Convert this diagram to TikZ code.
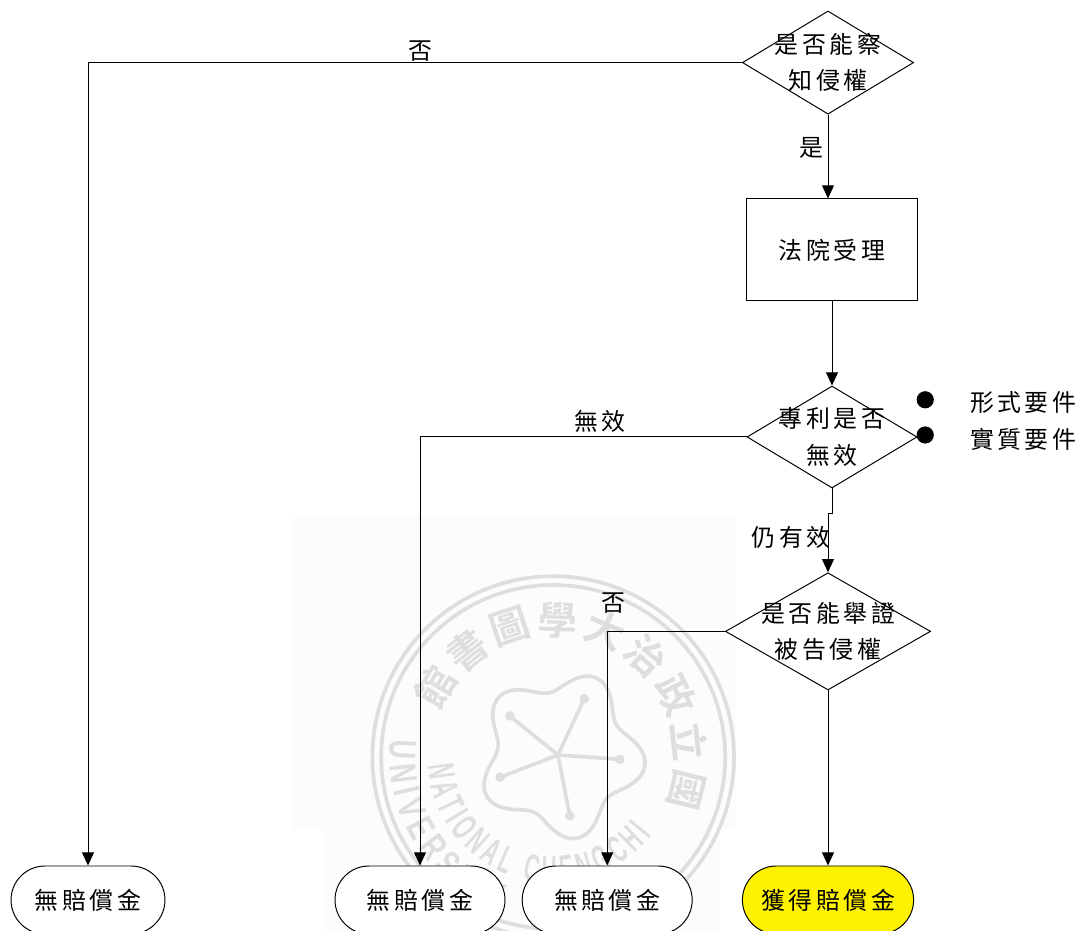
\documentclass[tikz,border=0pt]{standalone}
\usepackage{fontspec}
\setmainfont{Noto Sans CJK TC}
\newfontfamily\flowfont[LetterSpace=15]{Noto Sans CJK TC}
\newfontfamily\sealcjk{Noto Sans CJK TC Bold}
\newfontfamily\sealinner[FakeStretch=0.55]{Liberation Sans Bold}
\newfontfamily\sealouter[FakeStretch=0.7]{Liberation Sans Bold}
\definecolor{wmgray}{HTML}{DEDEDE}
\definecolor{wmpaper}{HTML}{FCFCFA}
\usetikzlibrary{arrows.meta,positioning,shapes.geometric,shapes.misc,calc,decorations.text}

\begin{document}
\begin{tikzpicture}[
  txt/.style={font=\flowfont\fontsize{17}{26}\selectfont,align=center,inner sep=0pt},
  decision/.style={txt,draw,diamond,fill=white,line width=0.7pt,inner sep=-1.7cm},
  procbox/.style={txt,draw,fill=white,line width=0.7pt,minimum width=4.28cm,minimum height=2.55cm},
  term/.style={txt,draw,rounded rectangle,fill=white,line width=0.7pt,minimum height=1.7cm},
  dot/.style={circle,fill=black,inner sep=0pt,minimum size=0.43cm},
  arr/.style={-{Triangle[length=0.33cm,width=0.3cm]},line width=0.7pt},
  sealline/.style={draw=wmgray,line width=2.6pt},
  sealchar/.style={font=\sealcjk\fontsize{28}{28}\selectfont,text=wmgray,inner sep=0pt}
]
  \clip (0,0) rectangle (27.05,23.275);
  % Watermark
  \fill[wmpaper] (7.32,2.52) rectangle (18.4,10.4);
  \fill[wmpaper] (8.1,0) rectangle (18,2.52);
  \coordinate (wmc) at (13.83,4.35);
  \draw[sealline] (wmc) circle (4.52);
  \draw[sealline] (wmc) circle (4.3);
  \foreach \wi/\wc in {0/國,1/立,2/政,3/治,4/大,5/學,6/圖,7/書,8/館}{
    \pgfmathsetmacro{\wa}{-14+20.4*\wi}
    \node[sealchar,rotate=\wa-90] (seal\wi) at ($(wmc)+(\wa:3.43)$) {\wc};
  }
  \path[decorate,decoration={text along path,text align=fit to path,
    text={|\sealinner\fontsize{27}{27}\selectfont\color{wmgray}|NATIONAL CHENGCHI}}]
    (wmc) ++(184:3.15) arc[start angle=184,end angle=322,radius=3.15];
  \path[decorate,decoration={text along path,text align=fit to path,
    text={|\sealouter\fontsize{27}{27}\selectfont\color{wmgray}|UNIVERSITY}}]
    (wmc) ++(174:4.08) arc[start angle=174,end angle=250,radius=4.08];
  \draw[sealline,shift={(14.02,4.4)}] plot[domain=0:356,samples=60,smooth cycle] (\x:{1.85+0.27*cos(5*(\x-65))});
  \foreach \wa in {65,141,201,281,356}{
    \draw[sealline] (13.95,4.4) -- ($(13.95,4.4)+(\wa:1.55)$);
    \fill[wmgray] ($(13.95,4.4)+(\wa:1.55)$) circle (0.12);
  }
  % Flow nodes
  \node[decision,minimum width=4.28cm,minimum height=2.58cm] (known) at (20.7,21.71) {是否能察\\知侵權};
  \node[procbox] (court) at (20.8,17.025) {法院受理};
  \node[decision,minimum width=4.25cm,minimum height=2.55cm] (invalid) at (20.8,12.35) {專利是否\\無效};
  \node[decision,minimum width=5.13cm,minimum height=2.93cm] (proof) at (20.7,7.49) {是否能舉證\\被告侵權};
  \node[term,minimum width=3.85cm] (none1) at (2.2,0.775) {無賠償金};
  \node[term,minimum width=4.25cm] (none2) at (10.5,0.775) {無賠償金};
  \node[term,minimum width=4.25cm] (none3) at (15.18,0.775) {無賠償金};
  \node[term,minimum width=4.28cm,fill=yellow] (award) at (20.7,0.775) {獲得賠償金};
  \coordinate (jog) at (20.7,10.43);
  % Arrows
  \draw[arr] (known.west) -| (none1.north);
  \draw[arr] (known.south) -- (known.south |- court.north);
  \draw[arr] (court.south) -- (invalid.north);
  \draw[arr] (invalid.west) -| (none2.north);
  \draw[arr] (invalid.south) |- (jog) -- (proof.north);
  \draw[arr] (proof.west) -| (none3.north);
  \draw[arr] (proof.south) -- (award.north);
  % Labels
  \node[txt] (lblno1) at (10.5,22) {否};
  \node[txt] (lblyes) at (20.28,19.58) {是};
  \node[txt] (lblvoid) at (15,12.75) {無效};
  \node[txt] (lblvalid) at (19.78,9.83) {仍有效};
  \node[txt] (lblno2) at (15.33,8.2) {否};
  % Requirements
  \node[dot] (dot1) at (23.13,13.28) {};
  \node[dot] (dot2) at (23.13,12.4) {};
  \node[txt] (form) at (25.58,13.2) {形式要件};
  \node[txt] (subst) at (25.58,12.3) {實質要件};
\end{tikzpicture}
\end{document}
